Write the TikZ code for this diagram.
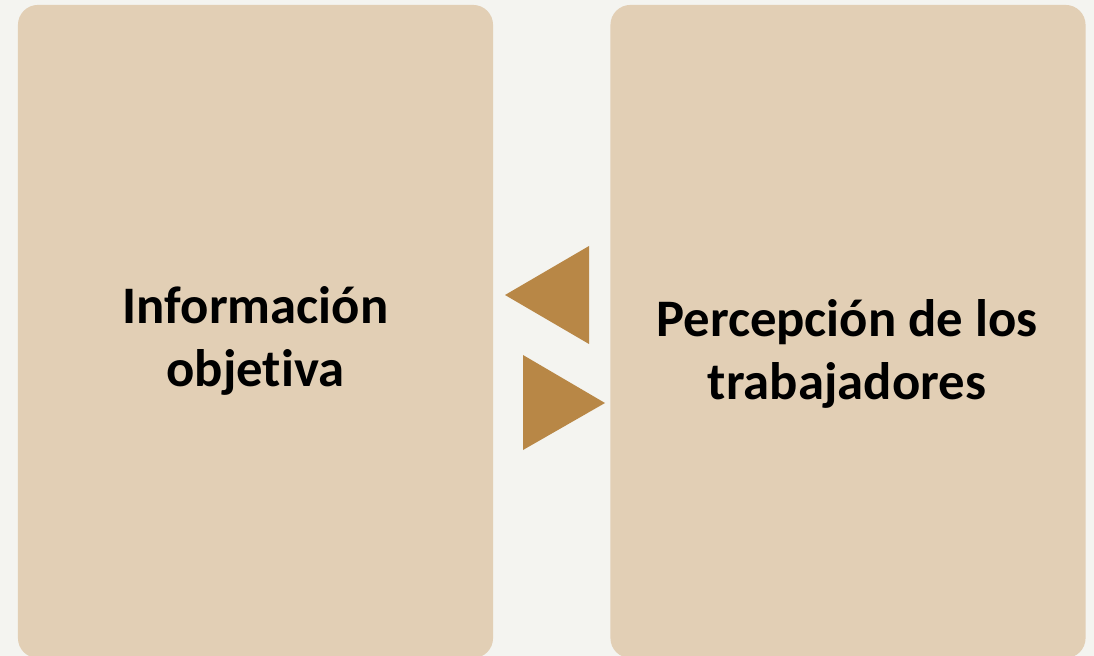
\documentclass[tikz,border=0pt]{standalone}
\usepackage{fontspec}
\setmainfont[Ligatures={NoCommon}]{Carlito}
\definecolor{pagebg}{HTML}{F4F4F0}
\definecolor{boxfill}{HTML}{E2CFB5}
\definecolor{arrowfill}{HTML}{B88746}
\begin{document}
\begin{tikzpicture}[x=0.025cm, y=-0.025cm,
    panel/.style={fill=boxfill, rounded corners=0.5cm, minimum width=11.875cm, minimum height=16.325cm, inner sep=0pt},
    label/.style={align=center, font=\fontsize{37.5}{44.5}\selectfont\bfseries, inner sep=0pt}]
    \fill [pagebg] (0,0) rectangle (1094,656) ;
    \useasboundingbox (0,0) rectangle (1094,656) ;

    \node (info) [panel] at (255.5,331.5) {} ;
    \node (perc) [panel] at (848,331.5) {} ;

    \node (infotext) [label] at (255.5,341) {Información\\objetiva} ;
    \node (perctext) [label] at (847,354) {Percepción de los\\trabajadores} ;

    \fill [arrowfill] (505,295) -- (589,246) -- (589,344) -- cycle ;
    \fill [arrowfill] (523,355) -- (605,403) -- (523,450) -- cycle ;
\end{tikzpicture}
\end{document}
